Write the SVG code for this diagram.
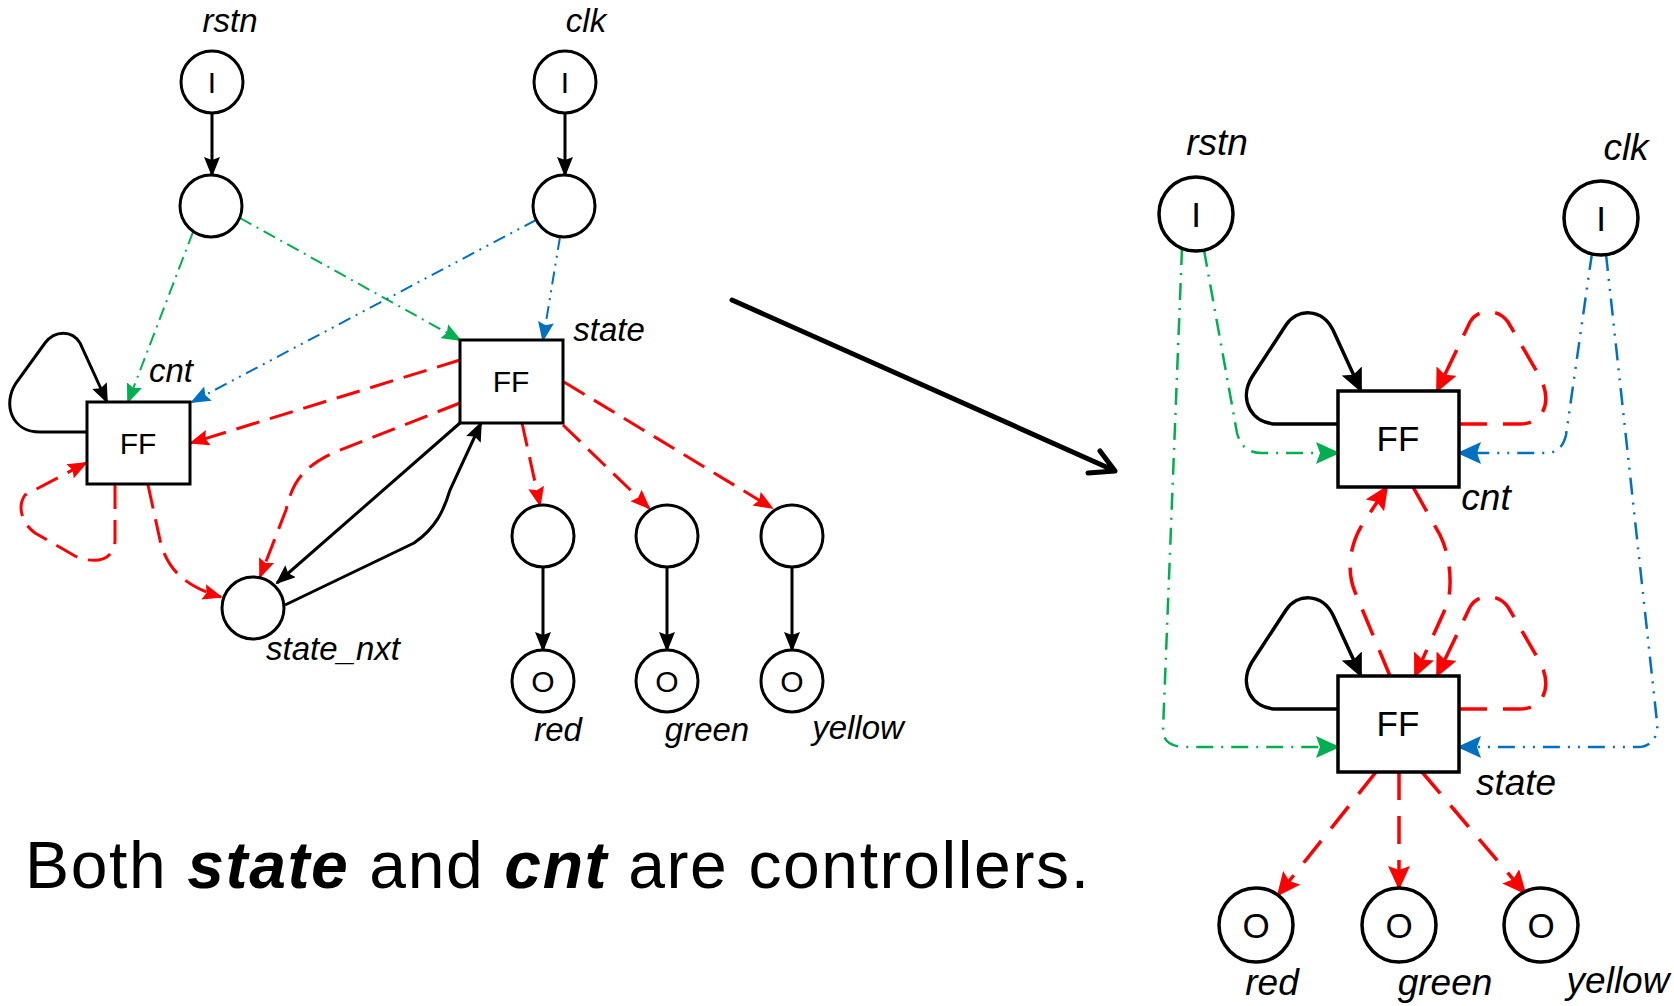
<svg xmlns="http://www.w3.org/2000/svg" width="1674" height="1006" viewBox="0 0 1674 1006">
<style>
text{font-family:"Liberation Sans",Arial,sans-serif;fill:#000}
.lbl{font-style:italic;font-size:33px;text-anchor:middle}
.lbl2{font-style:italic;font-size:37px;text-anchor:middle}
.sym{font-size:30px;text-anchor:middle}
.sym2{font-size:35px;text-anchor:middle}
.n1{fill:#fff;stroke:#000;stroke-width:3}
.n2{fill:#fff;stroke:#000;stroke-width:3.5}
.blk{fill:none;stroke:#000;stroke-width:3}
.blk2{fill:none;stroke:#000;stroke-width:3.5}
.red{fill:none;stroke:#f00;stroke-width:3;stroke-dasharray:24 11}
.red2{fill:none;stroke:#f00;stroke-width:3.5;stroke-dasharray:28 16}
.grn{fill:none;stroke:#00b050;stroke-width:2;stroke-dasharray:13 6 2 6}
.grn2{fill:none;stroke:#00b050;stroke-width:2.5;stroke-dasharray:17 8 2 8}
.blu{fill:none;stroke:#0070c0;stroke-width:2;stroke-dasharray:13 6 2 6 2 6}
.blu2{fill:none;stroke:#0070c0;stroke-width:2.5;stroke-dasharray:17 8 2 8 2 8}
</style>
<defs>
<marker id="ak" viewBox="0 0 20 16" refX="18" refY="8" markerWidth="20" markerHeight="16" orient="auto" markerUnits="userSpaceOnUse"><path d="M0,0 L20,8 L0,16 L3,8 z" fill="#000"/></marker>
<marker id="ar" viewBox="0 0 20 16" refX="18" refY="8" markerWidth="20" markerHeight="16" orient="auto" markerUnits="userSpaceOnUse"><path d="M0,0 L20,8 L0,16 L3,8 z" fill="#f00"/></marker>
<marker id="ag" viewBox="0 0 20 16" refX="18" refY="8" markerWidth="20" markerHeight="16" orient="auto" markerUnits="userSpaceOnUse"><path d="M0,0 L20,8 L0,16 L3,8 z" fill="#00b050"/></marker>
<marker id="ab" viewBox="0 0 20 16" refX="18" refY="8" markerWidth="20" markerHeight="16" orient="auto" markerUnits="userSpaceOnUse"><path d="M0,0 L20,8 L0,16 L3,8 z" fill="#0070c0"/></marker>
<marker id="bk" viewBox="0 0 24 22" refX="22" refY="11" markerWidth="24" markerHeight="22" orient="auto" markerUnits="userSpaceOnUse"><path d="M0,0 L24,11 L0,22 L4,11 z" fill="#000"/></marker>
<marker id="br" viewBox="0 0 24 22" refX="22" refY="11" markerWidth="24" markerHeight="22" orient="auto" markerUnits="userSpaceOnUse"><path d="M0,0 L24,11 L0,22 L4,11 z" fill="#f00"/></marker>
<marker id="bg" viewBox="0 0 24 22" refX="22" refY="11" markerWidth="24" markerHeight="22" orient="auto" markerUnits="userSpaceOnUse"><path d="M0,0 L24,11 L0,22 L4,11 z" fill="#00b050"/></marker>
<marker id="bb" viewBox="0 0 24 22" refX="22" refY="11" markerWidth="24" markerHeight="22" orient="auto" markerUnits="userSpaceOnUse"><path d="M0,0 L24,11 L0,22 L4,11 z" fill="#0070c0"/></marker>
</defs>
<rect width="1674" height="1006" fill="#fff"/>

<g id="connectors">
<!-- left -->
<path class="blk" d="M212,113 L212,175" marker-end="url(#ak)"/>
<path class="blk" d="M565,113 L565,175" marker-end="url(#ak)"/>
<path class="grn" d="M193,232 L128,402" marker-end="url(#ag)"/>
<path class="grn" d="M240,218 L460,340" marker-end="url(#ag)"/>
<path class="blu" d="M536,220 L192,402" marker-end="url(#ab)"/>
<path class="blu" d="M560,237 L543,340" marker-end="url(#ab)"/>
<path class="blk" d="M87,432 L40,432 C12,432 2,405 16,383 L45,343 C55,330 72,330 80,343 L107,402" marker-end="url(#ak)"/>
<path class="red" d="M460,360 L191,443" marker-end="url(#ar)"/>
<path class="red" d="M460,403 L335,452 C300,468 292,485 286,510 L260,577" marker-end="url(#ar)"/>
<path class="red" d="M115,485 L115,540 C115,560 95,565 75,556 L35,533 C20,522 18,505 25,495 L86,463" marker-end="url(#ar)"/>
<path class="red" d="M148,485 L160,540 C166,565 180,585 221,597" marker-end="url(#ar)"/>
<path class="red" d="M522,423 L540,505" marker-end="url(#ar)"/>
<path class="red" d="M563,425 L649,508" marker-end="url(#ar)"/>
<path class="red" d="M564,382 L772,508" marker-end="url(#ar)"/>
<path class="blk" d="M460,423 L277,583" marker-end="url(#ak)"/>
<path class="blk" d="M285,605 L414,543 C436,528 444,510 450,490 L481,423" marker-end="url(#ak)"/>
<path class="blk" d="M543,567 L543,650" marker-end="url(#ak)"/>
<path class="blk" d="M667,567 L667,650" marker-end="url(#ak)"/>
<path class="blk" d="M792,567 L792,650" marker-end="url(#ak)"/>
<!-- big arrow -->
<path d="M732,300 L1113,470 M1088,473 L1115,471 L1100,451" fill="none" stroke="#000" stroke-width="5" stroke-linecap="round" stroke-linejoin="round"/>
<!-- right -->
<path class="blk2" d="M1338,424 L1277,424 C1252,424 1238,400 1252,377 L1286,325 C1297,308 1322,308 1333,330 L1361,391" marker-end="url(#bk)"/>
<path class="red2" d="M1459,424 L1520,424 C1545,424 1552,400 1540,377 L1508,322 C1498,308 1478,308 1470,322 L1437,391" marker-end="url(#br)"/>
<path class="blk2" d="M1338,709 L1277,709 C1252,709 1238,685 1252,662 L1286,610 C1297,593 1322,593 1333,615 L1361,676" marker-end="url(#bk)"/>
<path class="red2" d="M1459,709 L1520,709 C1545,709 1552,685 1540,662 L1508,607 C1498,593 1478,593 1470,607 L1437,676" marker-end="url(#br)"/>
<path class="grn2" d="M1204,250 L1237,433 C1241,448 1250,453 1262,453 L1338,453" marker-end="url(#bg)"/>
<path class="blu2" d="M1592,253 L1566,435 C1563,448 1556,453 1546,453 L1459,453" marker-end="url(#bb)"/>
<path class="grn2" d="M1182,248 L1163,730 C1163,742 1172,747 1186,747 L1338,747" marker-end="url(#bg)"/>
<path class="blu2" d="M1606,254 L1657,722 C1659,738 1650,747 1638,747 L1459,747" marker-end="url(#bb)"/>
<path class="red2" d="M1390,676 L1355,592 C1346,570 1350,545 1362,525 L1387,487" marker-end="url(#br)"/>
<path class="red2" d="M1413,487 L1440,535 C1450,555 1453,585 1447,605 L1415,676" marker-end="url(#br)"/>
<path class="red2" d="M1376,772 L1278,895" marker-end="url(#br)"/>
<path class="red2" d="M1399,772 L1399,888" marker-end="url(#br)"/>
<path class="red2" d="M1422,772 L1525,893" marker-end="url(#br)"/>
</g>

<!-- left nodes -->
<g id="rstn_in"><circle class="n1" cx="212" cy="82" r="31"/><text class="sym" x="212" y="93">I</text><text class="lbl" x="230" y="32">rstn</text></g>
<g id="clk_in"><circle class="n1" cx="565" cy="82" r="31"/><text class="sym" x="565" y="93">I</text><text class="lbl" x="586" y="32">clk</text></g>
<g id="rstn_buf"><circle class="n1" cx="211" cy="206" r="31"/></g>
<g id="clk_buf"><circle class="n1" cx="564" cy="206" r="31"/></g>
<g id="cnt_ff"><rect class="n1" x="87" y="402" width="103" height="82"/><text class="sym" x="138" y="454">FF</text><text class="lbl" x="171" y="382">cnt</text></g>
<g id="state_ff"><rect class="n1" x="460" y="340" width="103" height="83"/><text class="sym" x="511" y="392">FF</text><text class="lbl" x="609" y="341">state</text></g>
<g id="state_nxt"><circle class="n1" cx="253" cy="608" r="31"/><text class="lbl" x="333" y="660">state_nxt</text></g>
<g id="red_buf"><circle class="n1" cx="543" cy="536" r="31"/></g>
<g id="green_buf"><circle class="n1" cx="667" cy="536" r="31"/></g>
<g id="yellow_buf"><circle class="n1" cx="792" cy="536" r="31"/></g>
<g id="red_out"><circle class="n1" cx="543" cy="681" r="31"/><text class="sym" x="543" y="692">O</text><text class="lbl" x="558" y="741">red</text></g>
<g id="green_out"><circle class="n1" cx="667" cy="681" r="31"/><text class="sym" x="667" y="692">O</text><text class="lbl" x="707" y="741">green</text></g>
<g id="yellow_out"><circle class="n1" cx="792" cy="681" r="31"/><text class="sym" x="792" y="692">O</text><text class="lbl" x="858" y="739">yellow</text></g>

<!-- right nodes -->
<g id="rstn_in2"><circle class="n2" cx="1196" cy="214" r="37"/><text class="sym2" x="1196" y="227">I</text><text class="lbl2" x="1217" y="155">rstn</text></g>
<g id="clk_in2"><circle class="n2" cx="1601" cy="218" r="37"/><text class="sym2" x="1601" y="231">I</text><text class="lbl2" x="1626" y="160">clk</text></g>
<g id="cnt_ff2"><rect class="n2" x="1338" y="391" width="121" height="96"/><text class="sym2" x="1398" y="451">FF</text><text class="lbl2" x="1486" y="510">cnt</text></g>
<g id="state_ff2"><rect class="n2" x="1338" y="676" width="121" height="96"/><text class="sym2" x="1398" y="736">FF</text><text class="lbl2" x="1516" y="795">state</text></g>
<g id="red_out2"><circle class="n2" cx="1256" cy="925" r="37"/><text class="sym2" x="1256" y="938">O</text><text class="lbl2" x="1272" y="995">red</text></g>
<g id="green_out2"><circle class="n2" cx="1399" cy="925" r="37"/><text class="sym2" x="1399" y="938">O</text><text class="lbl2" x="1445" y="995">green</text></g>
<g id="yellow_out2"><circle class="n2" cx="1541" cy="925" r="37"/><text class="sym2" x="1541" y="938">O</text><text class="lbl2" x="1618" y="993">yellow</text></g>

<text x="25" y="888" font-size="66" textLength="1064" lengthAdjust="spacing">Both <tspan font-weight="bold" font-style="italic">state</tspan> and <tspan font-weight="bold" font-style="italic">cnt</tspan> are controllers.</text>
</svg>
